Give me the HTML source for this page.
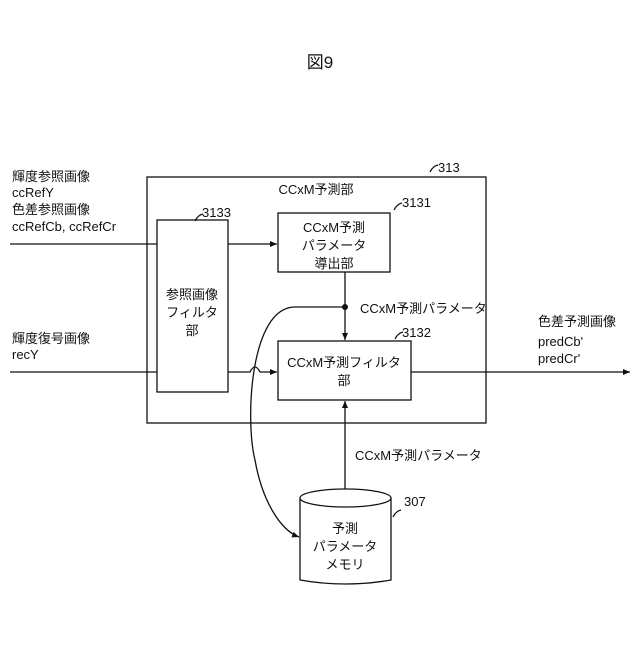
<!DOCTYPE html>
<html><head><meta charset="utf-8"><style>
body{margin:0;background:#fff}
svg text{font-family:"Liberation Sans","Noto Sans CJK JP",sans-serif;fill:#111}
</style></head><body>
<svg width="640" height="640" viewBox="0 0 640 640" xmlns="http://www.w3.org/2000/svg">
<defs><marker id="a" markerWidth="8" markerHeight="8" refX="7" refY="4" orient="auto" markerUnits="userSpaceOnUse"><path d="M0,1 L7,4 L0,7 Z" fill="#111"/></marker></defs>
<g stroke="#111" stroke-width="1.3" fill="none">
<rect x="147" y="177" width="339" height="246"/>
<rect x="157" y="220" width="71" height="172" fill="#fff"/>
<rect x="278" y="213" width="112" height="59"/>
<rect x="278" y="341" width="133" height="59"/>
<line x1="10" y1="244" x2="157" y2="244"/>
<line x1="228" y1="244" x2="277" y2="244" marker-end="url(#a)"/>
<line x1="10" y1="372" x2="157" y2="372"/>
<path d="M228,372 H250 q5,-10 10,0 H277" marker-end="url(#a)"/>
<line x1="411" y1="372" x2="630" y2="372" marker-end="url(#a)"/>
<line x1="345" y1="272" x2="345" y2="340" marker-end="url(#a)"/>
<line x1="345" y1="490" x2="345" y2="401" marker-end="url(#a)"/>
<path d="M345,307 H295 C250,307 245,420 255,460 C262,500 280,530 299,537" marker-end="url(#a)"/>
<path d="M300,498 V580 Q345,588 391,580 V498"/>
<ellipse cx="345.5" cy="498" rx="45.5" ry="9" fill="#fff"/>
<path d="M430,172 q3,-6 8,-7"/><path d="M195,221 q3,-6 8,-7"/><path d="M394,210 q3,-6 8,-7"/><path d="M395,339 q3,-6 8,-7"/><path d="M393,517 q3,-6 8,-7"/>
</g>
<circle cx="345" cy="307" r="3" fill="#111"/>
<g font-size="13">
<text x="320" y="68" font-size="17" text-anchor="middle">図9</text>
<text x="12" y="181">輝度参照画像</text>
<text x="12" y="197">ccRefY</text>
<text x="12" y="214">色差参照画像</text>
<text x="12" y="231">ccRefCb, ccRefCr</text>
<text x="12" y="343">輝度復号画像</text>
<text x="12" y="359">recY</text>
<text x="438" y="172">313</text>
<text x="202" y="217">3133</text>
<text x="402" y="207">3131</text>
<text x="402" y="337">3132</text>
<text x="404" y="506">307</text>
<text x="316" y="194" text-anchor="middle">CCxM予測部</text>
<text x="334" y="232" text-anchor="middle">CCxM予測</text>
<text x="334" y="250" text-anchor="middle">パラメータ</text>
<text x="334" y="268" text-anchor="middle">導出部</text>
<text x="192" y="299" text-anchor="middle">参照画像</text>
<text x="192" y="317" text-anchor="middle">フィルタ</text>
<text x="192" y="335" text-anchor="middle">部</text>
<text x="344" y="367" text-anchor="middle">CCxM予測フィルタ</text>
<text x="344" y="385" text-anchor="middle">部</text>
<text x="360" y="313">CCxM予測パラメータ</text>
<text x="355" y="460">CCxM予測パラメータ</text>
<text x="538" y="326">色差予測画像</text>
<text x="538" y="346">predCb'</text>
<text x="538" y="363">predCr'</text>
<text x="345" y="533" text-anchor="middle">予測</text>
<text x="345" y="551" text-anchor="middle">パラメータ</text>
<text x="345" y="569" text-anchor="middle">メモリ</text>
</g>
</svg>
</body></html>
